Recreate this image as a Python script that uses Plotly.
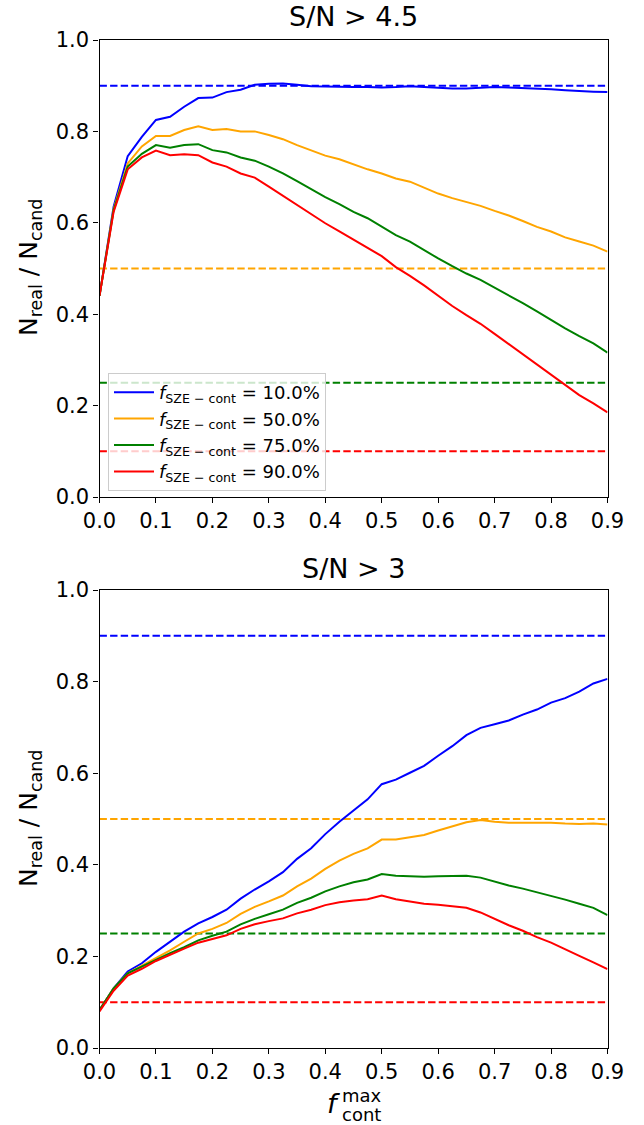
import plotly.graph_objects as go

x = [round(i * 0.025, 3) for i in range(37)]

# S/N > 4.5 (top panel)
top_10 = [0.44, 0.635, 0.746, 0.788, 0.825, 0.832, 0.854, 0.873, 0.874, 0.886, 0.891, 0.902, 0.904, 0.905,
          0.902, 0.899, 0.898, 0.897, 0.897, 0.897, 0.896, 0.897, 0.899, 0.897, 0.895, 0.894, 0.894, 0.895,
          0.897, 0.896, 0.895, 0.894, 0.892, 0.89, 0.888, 0.887, 0.886]
top_50 = [0.44, 0.63, 0.73, 0.767, 0.79, 0.79, 0.803, 0.811, 0.803, 0.805, 0.8, 0.8, 0.792, 0.783,
          0.77, 0.758, 0.747, 0.739, 0.728, 0.717, 0.708, 0.697, 0.69, 0.677, 0.664, 0.654, 0.645, 0.637,
          0.626, 0.616, 0.604, 0.591, 0.581, 0.568, 0.559, 0.55, 0.537]
top_75 = [0.44, 0.628, 0.723, 0.751, 0.77, 0.764, 0.77, 0.772, 0.759, 0.754, 0.743, 0.736, 0.723, 0.708,
          0.691, 0.674, 0.656, 0.641, 0.624, 0.61, 0.592, 0.573, 0.559, 0.54, 0.522, 0.505, 0.489, 0.475,
          0.458, 0.442, 0.424, 0.406, 0.387, 0.369, 0.352, 0.336, 0.316]
top_90 = [0.44, 0.624, 0.717, 0.743, 0.758, 0.748, 0.75, 0.748, 0.732, 0.723, 0.708, 0.699, 0.679, 0.659,
          0.639, 0.619, 0.599, 0.581, 0.563, 0.545, 0.527, 0.503, 0.484, 0.463, 0.44, 0.418, 0.398, 0.379,
          0.357, 0.335, 0.312, 0.29, 0.267, 0.245, 0.223, 0.205, 0.185]

# S/N > 3 (bottom panel)
bot_10 = [0.083, 0.13, 0.167, 0.185, 0.21, 0.232, 0.254, 0.272, 0.286, 0.302, 0.326, 0.346, 0.364, 0.384,
          0.413, 0.436, 0.467, 0.494, 0.518, 0.543, 0.576, 0.586, 0.601, 0.616, 0.638, 0.659, 0.683, 0.699,
          0.707, 0.715, 0.728, 0.739, 0.754, 0.764, 0.778, 0.796, 0.806]
bot_50 = [0.083, 0.13, 0.163, 0.18, 0.197, 0.213, 0.232, 0.25, 0.26, 0.273, 0.293, 0.308, 0.32, 0.333,
          0.353, 0.37, 0.391, 0.409, 0.424, 0.436, 0.455, 0.455, 0.46, 0.465, 0.475, 0.484, 0.493, 0.498,
          0.494, 0.492, 0.492, 0.491, 0.492, 0.49, 0.489, 0.49, 0.488]
bot_75 = [0.083, 0.13, 0.163, 0.178, 0.193, 0.207, 0.22, 0.235, 0.245, 0.254, 0.27, 0.282, 0.292, 0.302,
          0.317, 0.328, 0.342, 0.353, 0.362, 0.368, 0.38, 0.376, 0.375, 0.374, 0.375, 0.376, 0.376, 0.372,
          0.363, 0.355, 0.348, 0.34, 0.333, 0.324, 0.315, 0.306, 0.29]
bot_90 = [0.08, 0.125, 0.158, 0.173, 0.19, 0.204, 0.217, 0.23, 0.238, 0.246, 0.26, 0.27, 0.277, 0.283,
          0.294, 0.302, 0.312, 0.318, 0.322, 0.325, 0.333, 0.325, 0.32, 0.315, 0.313, 0.31, 0.306, 0.296,
          0.282, 0.268, 0.256, 0.242, 0.23, 0.215, 0.201, 0.187, 0.172]

fractions = ["10.0%", "50.0%", "75.0%", "90.0%"]
thresholds = [0.9, 0.5, 0.25, 0.1]
colors = ["#0000ff", "#ffa500", "#008000", "#ff0000"]

x_ticks = [0.0, 0.1, 0.2, 0.3, 0.4, 0.5, 0.6, 0.7, 0.8, 0.9]
y_ticks = [0.0, 0.2, 0.4, 0.6, 0.8, 1.0]

top_series = [top_10, top_50, top_75, top_90]
bot_series = [bot_10, bot_50, bot_75, bot_90]

W, H = 644, 1125
fig = go.Figure()
FONT = "DejaVu Sans"

for panel, series in (("top", top_series), ("bot", bot_series)):
    xa = "x" if panel == "top" else "x2"
    ya = "y" if panel == "top" else "y2"
    for i in range(4):
        fig.add_trace(go.Scatter(
            x=[x[0], x[-1]], y=[thresholds[i], thresholds[i]], mode="lines",
            line=dict(color=colors[i], width=2, dash="7.4px,3.2px"),
            showlegend=False, xaxis=xa, yaxis=ya, hoverinfo="skip"))
    for i in range(4):
        fig.add_trace(go.Scatter(
            x=x, y=series[i], mode="lines",
            line=dict(color=colors[i], width=2),
            name="<i>f</i><sub>SZE − cont</sub> = " + fractions[i],
            showlegend=(panel == "top"), xaxis=xa, yaxis=ya))

axis_common = dict(
    range=[0, 0.9], showgrid=False, zeroline=False, showline=True, mirror=True,
    linecolor="black", linewidth=1.4, ticks="outside", ticklen=5, tickwidth=1.4,
    tickcolor="black", tickfont=dict(family=FONT, size=21, color="black"),
    automargin=False,
)

top_dom = [1 - 497 / H, 1 - 40 / H]
bot_dom = [1 - 1048 / H, 1 - 590 / H]
x_dom = [99.5 / W, 607.5 / W]

def ann(text, px, py, size, **kw):
    d = dict(text=text, x=px / W, y=1 - py / H, xref="paper", yref="paper",
             showarrow=False, font=dict(family=FONT, size=size, color="black"),
             xanchor="center", yanchor="middle")
    d.update(kw)
    return d

fig.update_layout(
    width=W, height=H,
    margin=dict(l=0, r=0, t=0, b=0, autoexpand=False),
    paper_bgcolor="white", plot_bgcolor="white",
    font=dict(family=FONT, color="black"),
    xaxis=dict(**axis_common, domain=x_dom, anchor="y",
               tickvals=x_ticks, ticktext=[f"{v:.1f}" for v in x_ticks]),
    yaxis=dict(**{**axis_common, "range": [0, 1]}, domain=top_dom, anchor="x",
               tickvals=y_ticks, ticktext=[f"{v:.1f}" for v in y_ticks]),
    xaxis2=dict(**axis_common, domain=x_dom, anchor="y2",
                tickvals=x_ticks, ticktext=[f"{v:.1f}" for v in x_ticks]),
    yaxis2=dict(**{**axis_common, "range": [0, 1]}, domain=bot_dom, anchor="x2",
                tickvals=y_ticks, ticktext=[f"{v:.1f}" for v in y_ticks]),
    legend=dict(x=108 / W, y=1 - 373 / H, xanchor="left", yanchor="top",
                bgcolor="rgba(255,255,255,0.8)", bordercolor="#cccccc", borderwidth=1,
                font=dict(family=FONT, size=18), tracegroupgap=0, itemwidth=40),
    annotations=[
        ann("S/N > 4.5", 353, 17, 27),
        ann("S/N > 3", 353, 568, 27),
        ann("N<sub>real</sub> / N<sub>cand</sub>", 30, 268, 25, textangle=-90),
        ann("N<sub>real</sub> / N<sub>cand</sub>", 30, 819, 25, textangle=-90),
        ann("<i>f</i>", 342, 1103, 27, xanchor="right"),
        ann("max", 340, 1095, 18, xanchor="left"),
        ann("cont", 340, 1114, 18, xanchor="left"),
    ],
)

fig.write_html("out.html", config={"displayModeBar": False},
               post_script="document.body.style.margin='0px';")
